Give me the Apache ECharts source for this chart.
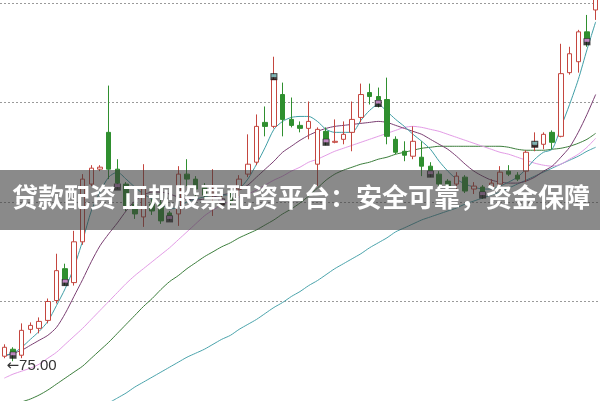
<!DOCTYPE html>
<html>
<head>
<meta charset="utf-8">
<style>
  html, body { margin: 0; padding: 0; background: #ffffff; }
  #chart { width: 600px; height: 401px; }
</style>
<script src="https://cdn.jsdelivr.net/npm/echarts@6/dist/echarts.min.js"></script>
</head>
<body>
<div id="chart"></div>
<script>
const categories = ['1','2','3','4','5','6','7','8','9','10','11','12','13','14','15','16','17','18','19','20','21','22','23','24','25','26','27','28','29','30','31','32','33','34','35','36','37','38','39','40','41','42','43','44','45','46','47','48','49','50','51','52','53','54','55','56','57','58','59','60','61','62','63','64','65','66','67','68','69'];

const opens = [75.25,75.60,75.30,76.60,76.65,77.05,78.05,79.65,78.95,81.00,83.90,84.65,86.50,84.65,83.90,82.90,82.25,82.90,82.90,82.45,82.40,84.40,84.15,83.75,83.40,82.85,83.25,83.65,84.40,85.00,87.00,86.80,88.40,87.15,86.85,86.70,84.90,86.55,86.00,86.15,86.50,87.25,88.50,88.30,88.15,86.15,85.55,85.30,85.25,84.80,84.40,84.05,83.90,84.25,83.65,83.75,83.75,83.90,84.55,84.35,84.55,85.80,85.90,86.50,86.30,89.50,90.05,91.55,92.65];
const closes = [75.70,75.40,76.55,76.80,77.00,78.00,79.55,79.05,81.00,84.15,84.70,84.75,84.65,83.95,82.80,82.40,83.75,82.55,82.05,82.25,84.40,84.15,83.65,83.35,83.50,83.15,83.05,84.15,84.90,86.80,86.80,89.15,87.15,86.85,86.70,87.05,86.65,86.15,86.05,86.40,87.15,88.40,88.30,88.05,86.30,85.50,85.35,86.05,84.80,84.55,83.90,83.75,84.30,83.55,83.80,83.50,83.95,84.50,84.40,84.15,85.50,85.95,86.40,86.00,89.45,90.45,91.55,91.20,93.40];
const lows = [75.15,75.00,75.15,76.40,76.40,76.90,77.90,78.80,78.80,80.85,83.80,84.55,84.15,83.65,82.55,82.15,81.75,82.35,81.90,82.05,81.80,83.80,83.30,83.15,82.30,82.65,82.85,83.30,84.25,84.85,86.30,86.70,86.30,86.75,86.50,86.15,83.80,85.85,85.95,85.90,85.55,87.00,87.90,87.75,85.90,85.40,85.05,85.15,84.30,84.25,83.75,83.55,83.65,83.45,83.40,83.15,83.65,83.80,84.30,84.05,84.00,85.55,85.65,85.65,86.25,89.40,89.50,90.80,92.15];
const highs = [75.85,75.70,76.90,76.95,77.20,78.15,80.40,79.90,81.55,84.40,84.85,84.85,88.85,85.15,84.00,83.15,84.90,83.15,83.25,82.55,84.80,85.15,84.30,83.95,84.65,83.35,83.50,84.35,86.40,87.40,87.80,90.30,89.00,88.25,87.05,88.05,86.75,86.75,87.15,87.05,88.05,88.95,88.95,88.75,89.25,86.30,86.05,86.80,86.05,85.00,84.55,84.15,84.50,84.35,84.00,83.85,84.15,84.80,84.85,84.50,85.60,86.50,86.50,86.60,90.95,90.80,91.65,92.40,93.65];

const ma5 = [75.30,75.40,75.70,76.10,76.50,77.00,77.80,78.65,79.70,81.05,82.55,83.50,84.25,84.50,84.15,83.75,83.40,83.15,82.90,82.65,82.75,83.00,83.15,83.25,83.35,83.35,83.35,83.65,84.15,84.90,85.75,86.65,87.05,87.25,87.30,87.30,87.05,86.65,86.50,86.50,86.50,87.10,87.60,87.90,87.55,87.15,86.80,86.40,86.05,85.65,85.05,84.55,84.15,83.90,83.75,83.65,83.65,83.80,84.00,84.25,84.65,85.15,85.50,85.65,86.75,87.90,89.15,90.65,92.05];
const ma10 = [75.25,75.40,75.55,75.80,76.05,76.30,76.70,77.40,78.25,79.10,80.00,80.80,81.40,81.95,82.55,83.05,83.35,83.50,83.50,83.40,83.25,83.15,83.10,83.15,83.25,83.35,83.45,83.60,83.85,84.25,84.65,85.05,85.50,85.80,86.10,86.35,86.55,86.70,86.80,86.85,86.90,86.95,87.00,87.05,87.00,86.85,86.70,86.55,86.40,86.15,85.90,85.65,85.30,84.90,84.55,84.30,84.10,84.00,83.95,83.95,84.05,84.25,84.55,84.80,85.25,85.75,86.50,87.40,88.40];
const ma20 = [74.15,74.35,74.50,74.65,74.85,75.15,75.45,75.85,76.25,76.65,77.10,77.55,78.00,78.45,78.90,79.30,79.65,80.00,80.35,80.70,81.10,81.50,81.90,82.30,82.60,82.85,83.05,83.25,83.40,83.60,83.85,84.10,84.30,84.55,84.75,85.00,85.15,85.35,85.55,85.70,85.85,86.00,86.15,86.30,86.45,86.60,86.75,86.80,86.75,86.65,86.55,86.40,86.25,86.10,85.95,85.80,85.65,85.50,85.40,85.25,85.10,84.95,84.85,84.80,84.90,85.15,85.40,85.75,86.20];
const ma60 = [72.55,72.75,72.95,73.10,73.30,73.55,73.85,74.15,74.45,74.75,75.15,75.55,75.95,76.40,76.85,77.30,77.75,78.15,78.60,79.00,79.30,79.65,79.95,80.25,80.50,80.75,80.95,81.20,81.40,81.60,81.85,82.10,82.40,82.65,82.95,83.30,83.70,84.10,84.40,84.60,84.75,84.90,85.00,85.15,85.25,85.40,85.50,85.60,85.70,85.75,85.80,85.80,85.80,85.80,85.80,85.80,85.80,85.80,85.75,85.65,85.60,85.60,85.60,85.65,85.70,85.80,85.95,86.15,86.45];
const ma120 = [null,null,null,null,null,null,null,null,null,null,null,null,72.90,73.15,73.40,73.70,73.95,74.20,74.45,74.70,74.95,75.20,75.40,75.60,75.85,76.10,76.30,76.60,76.85,77.10,77.40,77.70,77.95,78.25,78.50,78.80,79.05,79.35,79.65,79.90,80.15,80.40,80.70,80.95,81.20,81.50,81.70,81.90,82.10,82.25,82.40,82.55,82.70,82.90,83.05,83.20,83.35,83.50,83.70,83.90,84.10,84.30,84.50,84.70,84.90,85.10,85.30,85.55,85.75];

const markIdx = [1,7,13,19,25,31,37,43,49,55,61,67];
const markVal = [75.30,78.95,83.75,82.15,83.00,89.30,86.00,87.95,84.40,83.35,85.90,91.05];
const markTone = ['p','p','p','p','p','t','p','p','p','p','t','p'];

const lowArrow = '←';
const lowText = '75.00';
const lowIndex = 1;
const lowValue = 75.00;
const bannerText = '贷款配资 正规股票配资平台：安全可靠，资金保障';

const candleData = opens.map((o, i) => [o, closes[i], lows[i], highs[i]]);
const markOuter = markIdx.map((x, i) => [x, markVal[i]]);
const markPink = markIdx.map((x, i) => markTone[i] === 'p' ? [x, markVal[i]] : null).filter(Boolean);
const markTeal = markIdx.map((x, i) => markTone[i] === 't' ? [x, markVal[i]] : null).filter(Boolean);

function maLine(name, data, color) {
  return {
    name: name, type: 'line', data: data, yAxisIndex: 0,
    symbol: 'none', showSymbol: false, smooth: 0.25,
    lineStyle: { width: 1, color: color }, z: 2, silent: true
  };
}

const chart = echarts.init(document.getElementById('chart'), null, { renderer: 'canvas' });
chart.setOption({
  animation: false,
  backgroundColor: '#ffffff',
  grid: { left: -3.08, right: -1.1, top: 3, bottom: -2 },
  xAxis: { type: 'category', data: categories, show: false, boundaryGap: true },
  yAxis: [
    { type: 'value', min: 73, max: 93, show: false },
    { type: 'value', min: 0, max: 20, interval: 5,
      axisLine: { show: false }, axisTick: { show: false }, axisLabel: { show: false },
      splitLine: { show: true, lineStyle: { color: '#9a9a9a', width: 1, type: [2, 2] } } }
  ],
  series: [
    maLine('MA120', ma120, '#4aa3ab'),
    maLine('MA60', ma60, '#3b7d3b'),
    maLine('MA20', ma20, '#e39be6'),
    maLine('MA10', ma10, '#7b3f73'),
    maLine('MA5', ma5, '#3f9ea6'),
    {
      name: 'K', type: 'candlestick', data: candleData, yAxisIndex: 0,
      barWidth: 5, clip: false, z: 3,
      itemStyle: { color: '#ffffff', color0: '#2f8f2f', borderColor: '#c4463f', borderColor0: '#2f8f2f', borderWidth: 1 },
      markPoint: {
        symbol: 'circle', symbolSize: 1,
        itemStyle: { color: 'rgba(0,0,0,0)' },
        data: [{ coord: [lowIndex, lowValue], value: lowValue }],
        label: { show: true, formatter: '{a|' + lowArrow + '}{b|' + lowText + '}',
                 position: [-6, 5], align: 'left', verticalAlign: 'middle',
                 rich: {
                   a: { color: '#333333', fontSize: 15, fontFamily: 'DejaVu Sans', padding: [0, 0, 0, 0] },
                   b: { color: '#333333', fontSize: 15, fontFamily: 'Liberation Sans' }
                 } }
      }
    },
    { name: 'sig', type: 'scatter', data: markOuter, symbol: 'rect', symbolSize: [7, 7],
      itemStyle: { color: '#111111' }, z: 4, silent: true },
    { name: 'sigP', type: 'scatter', data: markPink, symbol: 'rect', symbolSize: [5, 3], symbolOffset: [0, -1.5],
      itemStyle: { color: '#e39be6' }, z: 5, silent: true },
    { name: 'sigT', type: 'scatter', data: markTeal, symbol: 'rect', symbolSize: [5, 3], symbolOffset: [0, -1],
      itemStyle: { color: '#8fd3d3' }, z: 5, silent: true }
  ],
  graphic: [
    { type: 'rect', left: 0, top: 170, z: 100, silent: true,
      shape: { x: 0, y: 0, width: 600, height: 60 },
      style: { fill: 'rgba(60,60,60,0.6)' } },
    { type: 'text', left: 12, top: 184, z: 101, silent: true,
      style: { text: bannerText, fill: '#ffffff', font: 'bold 26px "Noto Sans CJK SC", sans-serif' } }
  ]
});
</script>
</body>
</html>
